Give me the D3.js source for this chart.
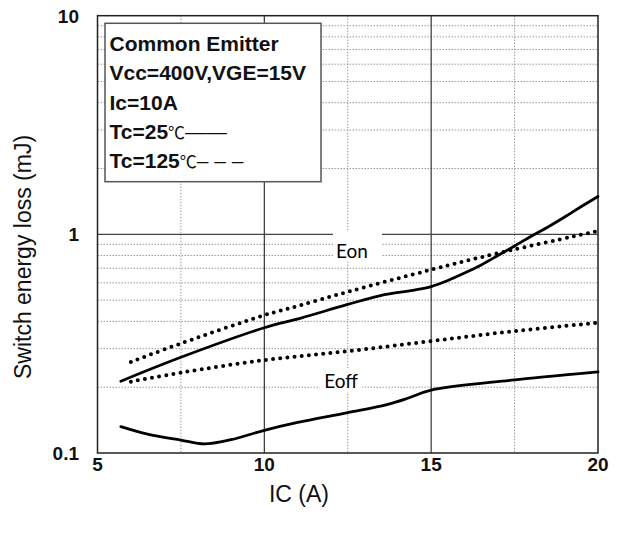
<!DOCTYPE html>
<html><head><meta charset="utf-8">
<script src="https://cdn.jsdelivr.net/npm/d3@7"></script>
<style>body{margin:0;background:#fff}svg{display:block}</style>
</head><body>
<svg id="chart" width="620" height="533"></svg>
<script>
// ---- data ----
const xTicks = [5, 10, 15, 20];
const xMinor = [7.5, 12.5, 17.5];
const yTicks = [0.1, 1, 10];
const yTickLabels = ["0.1", "1", "10"];
const yMinor = [0.2,0.3,0.4,0.5,0.6,0.7,0.8,0.9,2,3,4,5,6,7,8,9];

const eon25X  = [5.7, 7.5, 10, 11.07, 12.5, 13.6, 14.5, 15, 15.5, 16, 16.5, 17, 17.5, 18, 18.5, 19, 19.5, 20];
const eon25Y  = [0.213, 0.274, 0.374, 0.413, 0.478, 0.53, 0.556, 0.577, 0.615, 0.665, 0.725, 0.80, 0.885, 0.98, 1.08, 1.2, 1.34, 1.49];
const eon125X = [6.0, 7.5, 10, 11, 12.5, 15, 17, 20];
const eon125Y = [0.261, 0.317, 0.427, 0.47, 0.546, 0.689, 0.82, 1.035];
const eoff25X = [5.7, 6.5, 7.5, 8.2, 9, 10, 11, 12.5, 13.7, 14.3, 15, 17.5, 20];
const eoff25Y = [0.132, 0.122, 0.1146, 0.110, 0.115, 0.127, 0.138, 0.153, 0.167, 0.178, 0.194, 0.216, 0.235];
const eoff125X = [6.0, 7.5, 10, 12.5, 15, 17.5, 20];
const eoff125Y = [0.212, 0.233, 0.266, 0.292, 0.325, 0.361, 0.394];

const legendLines = ["Common Emitter", "Vcc=400V,VGE=15V", "Ic=10A"];
const tempLines = [{t:"Tc=25", sym:"——"}, {t:"Tc=125", sym:"– – –"}];

// ---- layout ----
const svg = d3.select("#chart");
const L = 97.5, R = 598, T = 15.7, B = 453;
const x = d3.scaleLinear().domain([5, 20]).range([L, R]);
const y = d3.scaleLog().domain([0.1, 10]).range([B, T]);

const g = svg.append("g");
g.selectAll(".hm").data(yMinor).join("line")
  .attr("x1", L).attr("x2", R).attr("y1", d => y(d)).attr("y2", d => y(d))
  .attr("stroke", "#9a9a9a").attr("stroke-width", 1).attr("stroke-dasharray", "1.5 1.5");
g.selectAll(".vm").data(xMinor).join("line")
  .attr("y1", T).attr("y2", B).attr("x1", d => x(d)).attr("x2", d => x(d))
  .attr("stroke", "#9a9a9a").attr("stroke-width", 1).attr("stroke-dasharray", "1.5 1.5");
g.selectAll(".vM").data([10, 15]).join("line")
  .attr("y1", T).attr("y2", B).attr("x1", d => x(d)).attr("x2", d => x(d))
  .attr("stroke", "#333").attr("stroke-width", 1.2);
g.append("line").attr("x1", L).attr("x2", R).attr("y1", y(1)).attr("y2", y(1))
  .attr("stroke", "#444").attr("stroke-width", 1.2);

// label backgrounds
svg.append("rect").attr("x", 333).attr("y", y(1) - 3).attr("width", 49).attr("height", 30).attr("fill", "#fff");
svg.append("rect").attr("x", 320).attr("y", 368).attr("width", 42).attr("height", 24).attr("fill", "#fff");

// frame
svg.append("rect").attr("x", L).attr("y", T).attr("width", R - L).attr("height", B - T)
  .attr("fill", "none").attr("stroke", "#222").attr("stroke-width", 1.5);

// curves
const line = d3.line().x(d => x(d[0])).y(d => y(d[1])).curve(d3.curveCatmullRom.alpha(0.5));
function draw(xs, ys, dotted) {
  const p = svg.append("path").datum(d3.zip(xs, ys)).attr("d", line)
    .attr("fill", "none").attr("stroke", "#000");
  if (dotted) p.attr("stroke-width", 4).attr("stroke-linecap", "round").attr("stroke-dasharray", "0 7.2");
  else p.attr("stroke-width", 2.8).attr("stroke-linecap", "round");
}
draw(eon25X, eon25Y, false);
draw(eon125X, eon125Y, true);
draw(eoff25X, eoff25Y, false);
draw(eoff125X, eoff125Y, true);

// curve labels
svg.append("text").attr("x", 352).attr("y", 258).attr("text-anchor", "middle")
  .attr("font-family", "Lato, 'Open Sans', sans-serif").attr("font-size", 19).text("Eon");
svg.append("text").attr("x", 341).attr("y", 388).attr("text-anchor", "middle")
  .attr("font-family", "Lato, 'Open Sans', sans-serif").attr("font-size", 19).text("Eoff");

// legend box
svg.append("rect").attr("x", 105).attr("y", 23.3).attr("width", 216).attr("height", 158.4)
  .attr("fill", "#fff").attr("stroke", "#555").attr("stroke-width", 1.5);
const lf = "'Liberation Sans', Arial, sans-serif";
const baselines = [50.5, 80, 109.5, 138.5, 168.3];
legendLines.forEach((t, i) => {
  svg.append("text").attr("x", 109.5).attr("y", baselines[i]).attr("font-family", lf)
    .attr("font-weight", "bold").attr("font-size", 21).attr("fill", "#111").text(t);
});
tempLines.forEach((d, i) => {
  const tx = svg.append("text").attr("x", 109.5).attr("y", baselines[3 + i]).attr("font-family", lf)
    .attr("font-size", 21).attr("fill", "#111");
  tx.append("tspan").attr("font-weight", "bold").text(d.t);
  tx.append("tspan").attr("font-family", "'Noto Sans CJK SC', sans-serif").attr("font-size", 17).text("℃");
  tx.append("tspan").attr("font-weight", "normal").text(d.sym);
});

// axes tick labels
const tf = "'Liberation Sans', Arial, sans-serif";
svg.selectAll(".yl").data(yTicks).join("text")
  .attr("x", 79).attr("y", d => y(d) + 7).attr("text-anchor", "end")
  .attr("font-family", tf).attr("font-weight", "bold").attr("font-size", 19).attr("fill", "#111")
  .text((d, i) => yTickLabels[i]);
svg.selectAll(".xl").data(xTicks).join("text")
  .attr("x", d => x(d)).attr("y", 471).attr("text-anchor", "middle")
  .attr("font-family", tf).attr("font-weight", "bold").attr("font-size", 19).attr("fill", "#111")
  .text(d => d);

// axis titles
svg.append("text").attr("x", 299).attr("y", 502).attr("text-anchor", "middle")
  .attr("font-family", tf).attr("font-size", 23).attr("fill", "#111").text("IC (A)");
svg.append("text").attr("transform", "translate(31,257) rotate(-90)").attr("text-anchor", "middle")
  .attr("font-family", tf).attr("font-size", 23).attr("fill", "#111").text("Switch energy loss (mJ)");
</script>
</body></html>
